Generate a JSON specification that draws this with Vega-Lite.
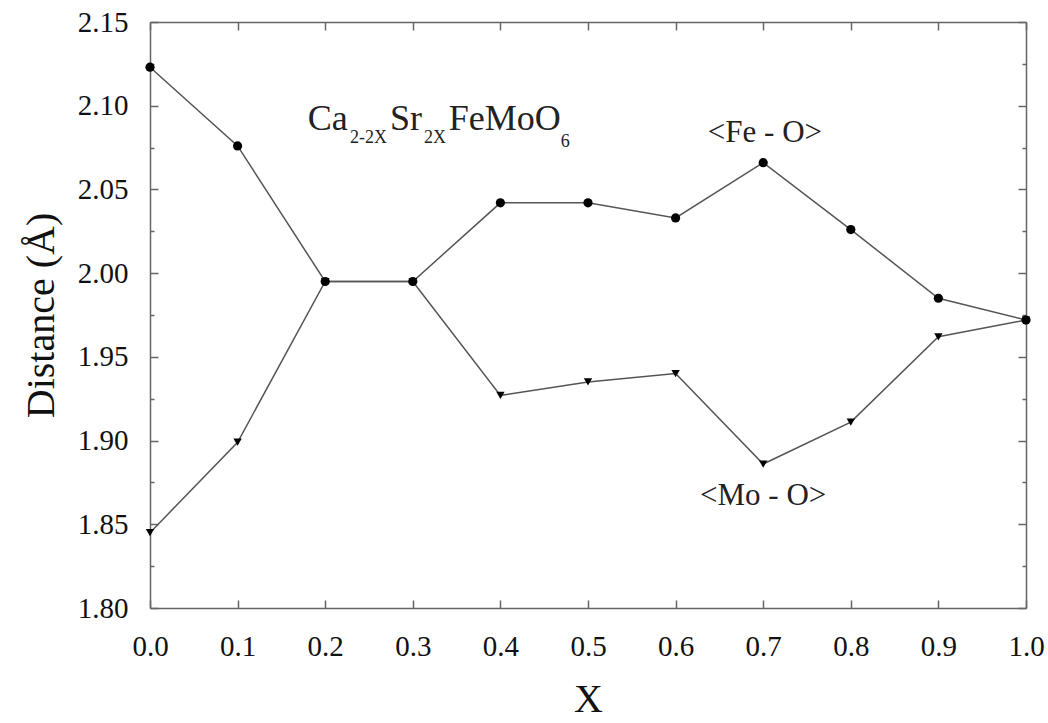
{
  "$schema": "https://vega.github.io/schema/vega-lite/v6.json",
  "width": 876,
  "height": 586,
  "autosize": {"type": "none"},
  "padding": {"left": 150, "top": 22, "right": 22, "bottom": 115},
  "background": "white",
  "config": {
    "view": {"stroke": null},
    "font": "Liberation Serif",
    "style": {"guide-label": {"font": "Liberation Serif"}, "guide-title": {"font": "Liberation Serif"}},
    "axis": {
      "labelFont": "Liberation Serif",
      "titleFont": "Liberation Serif",
      "labelColor": "#111",
      "titleColor": "#111",
      "domainColor": "#666",
      "domainWidth": 1.5,
      "tickColor": "#666",
      "tickWidth": 1.5,
      "grid": false,
      "titleFontWeight": "normal"
    }
  },
  "datasets": {
    "bonds": [
      {"x": 0.0, "series": "Fe-O", "d": 2.123},
      {"x": 0.1, "series": "Fe-O", "d": 2.076},
      {"x": 0.2, "series": "Fe-O", "d": 1.995},
      {"x": 0.3, "series": "Fe-O", "d": 1.995},
      {"x": 0.4, "series": "Fe-O", "d": 2.042},
      {"x": 0.5, "series": "Fe-O", "d": 2.042},
      {"x": 0.6, "series": "Fe-O", "d": 2.033},
      {"x": 0.7, "series": "Fe-O", "d": 2.066},
      {"x": 0.8, "series": "Fe-O", "d": 2.026},
      {"x": 0.9, "series": "Fe-O", "d": 1.985},
      {"x": 1.0, "series": "Fe-O", "d": 1.972},
      {"x": 0.0, "series": "Mo-O", "d": 1.845},
      {"x": 0.1, "series": "Mo-O", "d": 1.899},
      {"x": 0.2, "series": "Mo-O", "d": 1.995},
      {"x": 0.3, "series": "Mo-O", "d": 1.995},
      {"x": 0.4, "series": "Mo-O", "d": 1.927},
      {"x": 0.5, "series": "Mo-O", "d": 1.935},
      {"x": 0.6, "series": "Mo-O", "d": 1.940},
      {"x": 0.7, "series": "Mo-O", "d": 1.886},
      {"x": 0.8, "series": "Mo-O", "d": 1.911},
      {"x": 0.9, "series": "Mo-O", "d": 1.962},
      {"x": 1.0, "series": "Mo-O", "d": 1.972}
    ],
    "labels": [
      {"x": 0.702, "d": 2.0835, "text": "<Fe - O>"},
      {"x": 0.70, "d": 1.867, "text": "<Mo - O>"}
    ],
    "formulaMain": [
      {"x": 0.180, "d": 2.0853, "text": "Ca"},
      {"x": 0.274, "d": 2.0853, "text": "Sr"},
      {"x": 0.341, "d": 2.0853, "text": "FeMoO"}
    ],
    "formulaSub": [
      {"x": 0.2283, "d": 2.0775, "text": "2-2X"},
      {"x": 0.3128, "d": 2.0775, "text": "2X"},
      {"x": 0.469, "d": 2.0755, "text": "6"}
    ]
  },
  "layer": [
    {
      "data": {"name": "bonds"},
      "mark": {"type": "line", "color": "#555", "strokeWidth": 1.5},
      "encoding": {
        "x": {
          "field": "x", "type": "quantitative",
          "scale": {"domain": [0, 1], "nice": false, "zero": false},
          "axis": {
            "orient": "bottom",
            "values": [0, 0.1, 0.2, 0.3, 0.4, 0.5, 0.6, 0.7, 0.8, 0.9, 1.0],
            "format": ".1f",
            "tickSize": -8,
            "labelFont": "Liberation Serif",
            "labelFontSize": 29,
            "labelPadding": 32,
            "labelFlush": false,
            "labelOverlap": false,
            "title": "X",
            "titleFont": "Liberation Serif",
            "titleFontSize": 40,
            "titlePadding": 18
          }
        },
        "y": {
          "field": "d", "type": "quantitative",
          "scale": {"domain": [1.8, 2.15], "nice": false, "zero": false},
          "axis": {
            "orient": "left",
            "values": [1.8, 1.825, 1.85, 1.875, 1.9, 1.925, 1.95, 1.975, 2.0, 2.025, 2.05, 2.075, 2.1, 2.125, 2.15],
            "labelExpr": "round(datum.value*40)%2==0 ? format(datum.value,'.2f') : ''",
            "tickSize": {"condition": {"test": "round(datum.value*40)%2==1", "value": -4}, "value": -8},
            "labelFont": "Liberation Serif",
            "labelFontSize": 29,
            "labelPadding": 30,
            "labelFlush": false,
            "labelOverlap": false,
            "title": "Distance (Å)",
            "titleFont": "Liberation Serif",
            "titleFontSize": 40,
            "titlePadding": 16
          }
        },
        "detail": {"field": "series"}
      }
    },
    {
      "data": {"name": "bonds"},
      "mark": {"type": "point", "filled": true, "color": "black", "opacity": 1},
      "encoding": {
        "x": {
          "field": "x", "type": "quantitative",
          "axis": {
            "orient": "top",
            "values": [0, 0.1, 0.2, 0.3, 0.4, 0.5, 0.6, 0.7, 0.8, 0.9, 1.0],
            "tickSize": -8,
            "labels": false,
            "title": null
          }
        },
        "y": {
          "field": "d", "type": "quantitative",
          "axis": {
            "orient": "right",
            "values": [1.8, 1.825, 1.85, 1.875, 1.9, 1.925, 1.95, 1.975, 2.0, 2.025, 2.05, 2.075, 2.1, 2.125, 2.15],
            "tickSize": {"condition": {"test": "round(datum.value*40)%2==1", "value": -4}, "value": -8},
            "labels": false,
            "title": null
          }
        },
        "shape": {
          "field": "series", "type": "nominal",
          "scale": {"domain": ["Fe-O", "Mo-O"], "range": ["circle", "triangle-down"]},
          "legend": null
        },
        "size": {
          "field": "series", "type": "nominal",
          "scale": {"domain": ["Fe-O", "Mo-O"], "range": [85, 70]},
          "legend": null
        }
      }
    },
    {
      "data": {"name": "labels"},
      "mark": {"type": "text", "font": "Liberation Serif", "fontSize": 31, "color": "#222", "align": "center", "baseline": "middle"},
      "encoding": {
        "x": {"field": "x", "type": "quantitative", "axis": null},
        "y": {"field": "d", "type": "quantitative", "axis": null},
        "text": {"field": "text"}
      }
    },
    {
      "data": {"name": "formulaMain"},
      "mark": {"type": "text", "font": "Liberation Serif", "fontSize": 36, "color": "#222", "align": "left", "baseline": "alphabetic"},
      "encoding": {
        "x": {"field": "x", "type": "quantitative", "axis": null},
        "y": {"field": "d", "type": "quantitative", "axis": null},
        "text": {"field": "text"}
      }
    },
    {
      "data": {"name": "formulaSub"},
      "mark": {"type": "text", "font": "Liberation Serif", "fontSize": 18, "color": "#222", "align": "left", "baseline": "alphabetic"},
      "encoding": {
        "x": {"field": "x", "type": "quantitative", "axis": null},
        "y": {"field": "d", "type": "quantitative", "axis": null},
        "text": {"field": "text"}
      }
    }
  ],
  "resolve": {"axis": {"x": "independent", "y": "independent"}}
}
